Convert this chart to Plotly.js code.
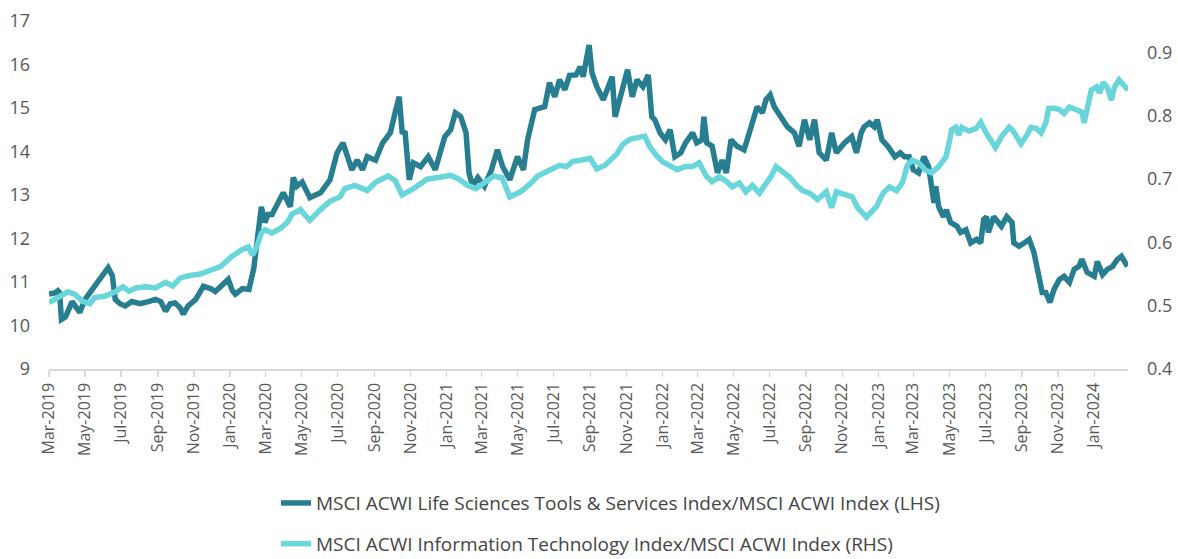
<!DOCTYPE html>
<html>
<head>
<meta charset="utf-8">
<script src="https://cdn.plot.ly/plotly-3.0.1.min.js"></script>
<style>
html,body{margin:0;padding:0;background:#fff;}
#chart{width:1178px;height:559px;}
</style>
</head>
<body>
<div id="chart"></div>
<script>
// LHS series: MSCI ACWI Life Sciences Tools & Services / MSCI ACWI
const lifeDates = ["2019-03-01","2019-03-11","2019-03-16","2019-03-19","2019-03-22","2019-03-29","2019-04-09","2019-04-16","2019-04-22","2019-05-01","2019-05-09","2019-05-17","2019-05-26","2019-06-02","2019-06-09","2019-06-16","2019-06-21","2019-06-29","2019-07-08","2019-07-19","2019-08-02","2019-08-16","2019-08-28","2019-09-06","2019-09-14","2019-09-22","2019-09-30","2019-10-09","2019-10-14","2019-10-22","2019-11-04","2019-11-17","2019-11-29","2019-12-07","2019-12-19","2019-12-29","2020-01-05","2020-01-10","2020-01-22","2020-02-02","2020-02-10","2020-02-15","2020-02-20","2020-02-23","2020-02-29","2020-03-05","2020-03-12","2020-03-22","2020-03-31","2020-04-12","2020-04-17","2020-04-23","2020-05-02","2020-05-15","2020-06-02","2020-06-18","2020-06-30","2020-07-10","2020-07-18","2020-07-25","2020-08-03","2020-08-12","2020-08-20","2020-09-03","2020-09-15","2020-09-28","2020-10-06","2020-10-13","2020-10-18","2020-10-23","2020-10-30","2020-11-06","2020-11-18","2020-12-01","2020-12-13","2020-12-21","2020-12-29","2021-01-08","2021-01-16","2021-01-25","2021-02-03","2021-02-08","2021-02-14","2021-02-23","2021-03-06","2021-03-18","2021-03-28","2021-04-06","2021-04-18","2021-05-01","2021-05-11","2021-05-18","2021-05-30","2021-06-16","2021-06-24","2021-07-03","2021-07-11","2021-07-20","2021-07-28","2021-08-08","2021-08-15","2021-08-20","2021-08-27","2021-08-30","2021-09-04","2021-09-12","2021-09-23","2021-10-01","2021-10-08","2021-10-13","2021-10-21","2021-11-03","2021-11-11","2021-11-19","2021-11-29","2021-12-08","2021-12-14","2021-12-19","2021-12-28","2022-01-06","2022-01-14","2022-01-22","2022-02-01","2022-02-09","2022-02-21","2022-02-28","2022-03-09","2022-03-12","2022-03-17","2022-03-26","2022-04-04","2022-04-12","2022-04-19","2022-04-27","2022-05-07","2022-05-19","2022-05-31","2022-06-10","2022-06-19","2022-06-25","2022-07-02","2022-07-09","2022-07-20","2022-07-31","2022-08-12","2022-08-20","2022-08-29","2022-09-07","2022-09-15","2022-09-23","2022-10-05","2022-10-14","2022-10-22","2022-11-05","2022-11-17","2022-11-25","2022-12-03","2022-12-08","2022-12-17","2022-12-25","2022-12-30","2023-01-07","2023-01-17","2023-01-29","2023-02-07","2023-02-14","2023-02-22","2023-03-01","2023-03-10","2023-03-19","2023-03-27","2023-04-01","2023-04-05","2023-04-08","2023-04-13","2023-04-21","2023-04-26","2023-05-03","2023-05-14","2023-05-20","2023-05-29","2023-06-06","2023-06-16","2023-06-23","2023-06-28","2023-07-03","2023-07-06","2023-07-15","2023-07-28","2023-08-06","2023-08-15","2023-08-18","2023-08-27","2023-09-05","2023-09-13","2023-09-21","2023-09-29","2023-10-05","2023-10-11","2023-10-18","2023-10-25","2023-11-03","2023-11-11","2023-11-20","2023-11-28","2023-12-06","2023-12-11","2023-12-20","2024-01-01","2024-01-06","2024-01-15","2024-01-23","2024-02-01","2024-02-09","2024-02-16","2024-02-26"];
const lifeValues = [10.72,10.75,10.8,10.75,10.14,10.2,10.55,10.4,10.3,10.6,10.75,10.95,11.1,11.2,11.33,11.15,10.6,10.5,10.45,10.55,10.5,10.55,10.6,10.55,10.33,10.5,10.52,10.4,10.26,10.45,10.6,10.9,10.85,10.78,10.95,11.06,10.8,10.72,10.85,10.83,11.3,11.8,12.3,12.73,12.37,12.55,12.55,12.82,13.05,12.73,13.4,13.2,13.3,12.94,13.05,13.35,13.97,14.2,13.88,13.58,13.8,13.58,13.88,13.8,14.2,14.43,14.89,15.26,14.45,14.43,13.35,13.74,13.65,13.88,13.58,13.97,14.34,14.5,14.89,14.8,14.43,13.51,13.2,13.4,13.2,13.58,14.04,13.65,13.35,13.88,13.58,14.27,14.96,15.03,15.58,15.26,15.65,15.42,15.75,15.76,15.95,15.72,16.33,16.45,15.8,15.49,15.19,15.49,15.72,14.8,15.26,15.88,15.26,15.65,15.49,15.76,14.8,14.73,14.43,14.27,14.5,13.88,13.97,14.2,14.43,14.2,14.27,14.8,14.2,14.12,13.51,13.8,13.51,14.27,14.12,14.04,14.57,15.03,14.89,15.19,15.3,15.03,14.8,14.57,14.43,14.12,14.73,14.27,14.73,13.97,13.8,14.43,13.97,14.2,14.34,13.97,14.43,14.57,14.66,14.57,14.73,14.27,14.12,13.88,13.97,13.88,13.88,13.58,13.51,13.88,13.65,13.28,12.82,13.2,12.73,12.5,12.66,12.37,12.28,12.14,12.2,11.9,11.98,11.9,12.44,12.5,12.14,12.5,12.28,12.5,12.37,11.9,11.82,11.9,11.98,11.68,11.22,10.76,10.76,10.53,10.83,11.06,11.13,10.99,11.29,11.36,11.52,11.22,11.13,11.47,11.17,11.29,11.36,11.52,11.59,11.36];

// RHS series: MSCI ACWI Information Technology / MSCI ACWI
const techDates = ["2019-03-01","2019-03-11","2019-03-19","2019-04-02","2019-04-14","2019-04-27","2019-05-09","2019-05-17","2019-06-03","2019-06-21","2019-07-04","2019-07-14","2019-07-26","2019-08-12","2019-08-28","2019-09-14","2019-09-26","2019-10-09","2019-10-26","2019-11-12","2019-11-29","2019-12-16","2020-01-03","2020-01-20","2020-02-01","2020-02-08","2020-02-15","2020-02-23","2020-02-29","2020-03-12","2020-03-26","2020-04-07","2020-04-15","2020-04-29","2020-05-08","2020-05-15","2020-06-02","2020-06-18","2020-07-05","2020-07-13","2020-07-30","2020-08-20","2020-09-03","2020-09-24","2020-10-06","2020-10-18","2020-11-06","2020-11-29","2020-12-21","2021-01-08","2021-01-22","2021-02-06","2021-02-20","2021-03-04","2021-03-22","2021-04-05","2021-04-18","2021-05-06","2021-05-23","2021-06-04","2021-06-21","2021-07-11","2021-07-23","2021-08-02","2021-08-15","2021-09-01","2021-09-12","2021-09-26","2021-10-16","2021-10-26","2021-11-07","2021-11-19","2021-12-02","2021-12-10","2021-12-22","2022-01-02","2022-01-14","2022-01-26","2022-02-09","2022-02-21","2022-03-04","2022-03-16","2022-03-26","2022-04-07","2022-04-19","2022-04-29","2022-05-11","2022-05-22","2022-06-02","2022-06-14","2022-06-25","2022-07-04","2022-07-12","2022-07-22","2022-08-04","2022-08-16","2022-08-26","2022-09-07","2022-09-20","2022-10-05","2022-10-14","2022-10-22","2022-11-08","2022-11-18","2022-11-27","2022-12-05","2022-12-12","2022-12-29","2023-01-09","2023-01-20","2023-02-01","2023-02-11","2023-02-19","2023-02-27","2023-03-10","2023-03-22","2023-04-01","2023-04-13","2023-04-25","2023-04-30","2023-05-05","2023-05-12","2023-05-17","2023-05-22","2023-06-03","2023-06-15","2023-06-23","2023-07-01","2023-07-11","2023-07-18","2023-07-28","2023-08-10","2023-08-17","2023-08-24","2023-08-30","2023-09-08","2023-09-16","2023-09-25","2023-10-03","2023-10-11","2023-10-16","2023-10-25","2023-11-03","2023-11-11","2023-11-20","2023-12-01","2023-12-11","2023-12-15","2023-12-20","2023-12-27","2024-01-05","2024-01-10","2024-01-16","2024-01-23","2024-01-30","2024-02-04","2024-02-12","2024-02-17","2024-02-24","2024-02-27"];
const techValues = [0.505,0.51,0.515,0.522,0.518,0.507,0.503,0.513,0.515,0.522,0.53,0.523,0.528,0.53,0.528,0.537,0.531,0.544,0.548,0.55,0.556,0.562,0.577,0.588,0.593,0.58,0.593,0.615,0.62,0.615,0.622,0.632,0.645,0.652,0.642,0.635,0.652,0.665,0.672,0.685,0.69,0.682,0.695,0.705,0.698,0.675,0.685,0.7,0.703,0.706,0.7,0.69,0.685,0.692,0.705,0.702,0.672,0.68,0.693,0.705,0.712,0.722,0.72,0.728,0.73,0.733,0.716,0.722,0.74,0.755,0.763,0.765,0.768,0.752,0.737,0.727,0.72,0.715,0.72,0.72,0.726,0.705,0.696,0.704,0.697,0.688,0.694,0.68,0.69,0.678,0.693,0.705,0.72,0.712,0.703,0.69,0.682,0.678,0.668,0.68,0.655,0.68,0.676,0.672,0.655,0.648,0.64,0.657,0.678,0.688,0.682,0.695,0.722,0.73,0.726,0.714,0.71,0.72,0.735,0.755,0.778,0.782,0.77,0.782,0.776,0.78,0.79,0.775,0.762,0.75,0.767,0.782,0.776,0.764,0.756,0.768,0.782,0.78,0.773,0.789,0.812,0.812,0.81,0.804,0.814,0.81,0.806,0.789,0.809,0.841,0.846,0.836,0.853,0.845,0.825,0.845,0.857,0.852,0.844,0.846];

const seriesNames = [
  "MSCI ACWI Life Sciences Tools & Services Index/MSCI ACWI Index (LHS)",
  "MSCI ACWI Information Technology Index/MSCI ACWI Index (RHS)"
];

const FONT = "'Open Sans', 'Noto Sans', sans-serif";

const traces = [
  {x: lifeDates, y: lifeValues, name: seriesNames[0], type: 'scatter', mode: 'lines',
   line: {color: '#277E91', width: 5.5}, legendgroup: 'a', yaxis: 'y'},
  {x: techDates, y: techValues, name: seriesNames[1], type: 'scatter', mode: 'lines',
   line: {color: '#68D6DA', width: 5.5}, legendgroup: 'b', yaxis: 'y2'}
];

const layout = {
  width: 1178, height: 559,
  paper_bgcolor: '#ffffff', plot_bgcolor: '#ffffff',
  margin: {l: 49, r: 50, t: 21, b: 190},
  font: {family: FONT, color: '#595959'},
  showlegend: true,
  legend: {orientation: 'v', x: 0.2104, xanchor: 'left', xref: 'paper',
           y: 0.134, yanchor: 'top', yref: 'container',
           font: {family: FONT, size: 19, color: '#454545'}, tracegroupgap: 13,
           bgcolor: 'rgba(0,0,0,0)'},
  xaxis: {type: 'date', range: ['2019-03-01', '2024-02-27'], automargin: false,
          tick0: '2019-03-01', dtick: 'M2', tickformat: '%b-%Y', tickangle: -90,
          showgrid: false, zeroline: false, showline: true, linecolor: '#d9d9d9', linewidth: 1.5,
          ticks: 'outside', ticklen: 6, tickcolor: '#d9d9d9', tickwidth: 1.5,
          tickfont: {family: FONT, size: 16, color: '#595959'}},
  yaxis: {range: [9, 17], dtick: 1, showgrid: false, zeroline: false, showline: false,
          ticks: '', ticklabelstandoff: 18, automargin: false,
          tickfont: {family: FONT, size: 18, color: '#595959'}},
  yaxis2: {range: [0.4, 0.95], dtick: 0.1, tick0: 0.4, tickformat: '.1f', overlaying: 'y', side: 'right',
           showgrid: false, zeroline: false, showline: false, ticks: '', ticklabelstandoff: 18, automargin: false,
           tickfont: {family: FONT, size: 18, color: '#595959'}}
};

Plotly.newPlot('chart', traces, layout, {displayModeBar: false, staticPlot: true});
</script>
</body>
</html>
